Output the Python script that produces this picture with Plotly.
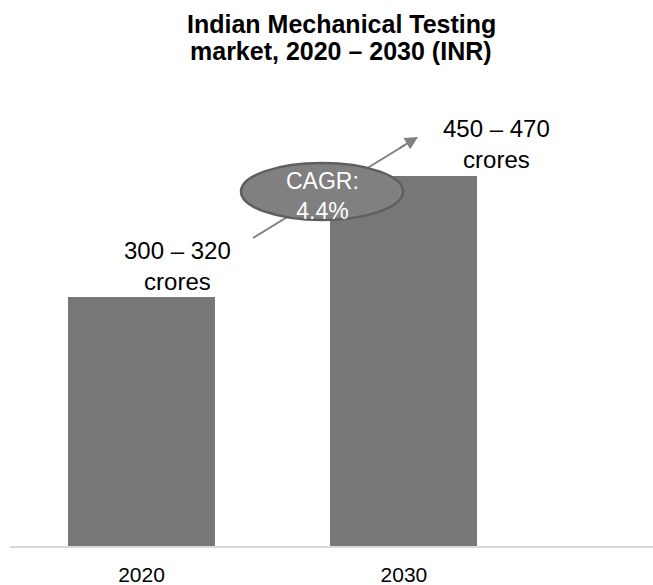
import plotly.graph_objects as go

categories = ["2020", "2030"]
values = [310, 460]
range_labels = ["300 – 320<br>crores", "450 – 470<br>crores"]
cagr_text = "CAGR:<br>4.4%"
title_lines = ["Indian Mechanical Testing", "market, 2020 – 2030 (INR)"]

W, H = 653, 585
ml, mr, mt, mb = 10, 0, 100, 39
x_range = [-0.501, 1.949]
y_range = [0, 555]

pw = W - ml - mr
ph = H - mt - mb

def px_to_x(px):
    return x_range[0] + (px - ml) / pw * (x_range[1] - x_range[0])

def py_to_y(py):
    return y_range[1] - (py - mt) / ph * (y_range[1] - y_range[0])

FONT = "Liberation Sans, Arial, sans-serif"
BAR = "#777777"
ARROW = "#808080"

fig = go.Figure()
fig.add_trace(go.Bar(
    x=[0, 1], y=values, width=0.56,
    marker=dict(color=BAR, line=dict(width=0)),
    hoverinfo="skip", showlegend=False,
))

# title (two lines, tight leading)
for line, py in zip(title_lines, [24, 51]):
    fig.add_annotation(x=(341 - ml) / pw, y=(H - mb - py) / ph,
                       xref="paper", yref="paper",
                       text="<b>" + line + "</b>", showarrow=False,
                       xanchor="center", yanchor="middle",
                       font=dict(family=FONT, size=25, color="#000000"))

# value-range labels
fig.add_annotation(x=px_to_x(177), y=py_to_y(266), xref="x", yref="y",
                   text=range_labels[0], showarrow=False,
                   font=dict(family=FONT, size=24, color="#000000"))
fig.add_annotation(x=px_to_x(496), y=py_to_y(144), xref="x", yref="y",
                   text=range_labels[1], showarrow=False,
                   font=dict(family=FONT, size=24, color="#000000"))

# growth arrow: shaft drawn as a shape beneath the ellipse, head as annotation
fig.add_shape(type="line", xref="x", yref="y",
              x0=px_to_x(253), y0=py_to_y(238), x1=px_to_x(405), y1=py_to_y(145),
              line=dict(color=ARROW, width=2))
fig.add_annotation(x=px_to_x(418), y=py_to_y(137), ax=px_to_x(398), ay=py_to_y(149),
                   xref="x", yref="y", axref="x", ayref="y",
                   text="", showarrow=True, arrowhead=2, arrowsize=1.3,
                   arrowwidth=2, arrowcolor=ARROW)

# CAGR ellipse
fig.add_shape(type="circle", xref="x", yref="y",
              x0=px_to_x(241), x1=px_to_x(403), y0=py_to_y(220), y1=py_to_y(163),
              fillcolor="#808080", line=dict(color="#5f5f5f", width=2.5))
fig.add_annotation(x=px_to_x(322), y=py_to_y(196), xref="x", yref="y",
                   text=cagr_text, showarrow=False,
                   font=dict(family=FONT, size=23, color="#ffffff"))

fig.update_layout(
    width=W, height=H,
    margin=dict(l=ml, r=mr, t=mt, b=mb),
    paper_bgcolor="white", plot_bgcolor="white",
    xaxis=dict(range=x_range, tickvals=[0, 1], ticktext=categories,
               showgrid=False, zeroline=False, showline=True,
               linecolor="#d9d9d9", linewidth=2, ticks="",
               ticklabelstandoff=9,
               tickfont=dict(family=FONT, size=21, color="#000000")),
    yaxis=dict(range=y_range, visible=False, showgrid=False, zeroline=False),
    bargap=0,
)

fig.write_html("out.html", config={"displayModeBar": False},
               post_script="document.body.style.margin='0';document.body.style.overflow='hidden';")
